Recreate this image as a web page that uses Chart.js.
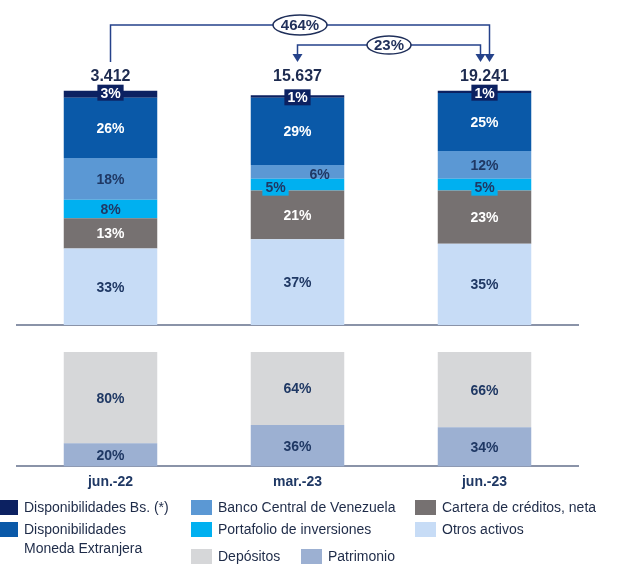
<!DOCTYPE html>
<html>
<head>
<meta charset="utf-8">
<script src="https://cdn.jsdelivr.net/npm/chart.js@4.4.1/dist/chart.umd.min.js"></script>
<style>
  html, body { margin: 0; padding: 0; background: #fff; }
  #wrap { position: relative; width: 622px; height: 565px; overflow: hidden; }
  #topChart { position: absolute; left: 0; top: 0; }
  #bottomChart { position: absolute; left: 0; top: 330px; }
  .leg { position: absolute; font: 14px "Liberation Sans", Arial, sans-serif; color: #1e2b48; line-height: 19px; white-space: nowrap; }
  .sw { position: absolute; width: 21px; height: 15px; }
</style>
</head>
<body>
<div id="wrap">
  <canvas id="topChart" width="622" height="330"></canvas>
  <canvas id="bottomChart" width="622" height="170"></canvas>
  <div id="legend"></div>
</div>
<script>
// categories and totals (Bs. millones)
const categories = ['jun.-22', 'mar.-23', 'jun.-23'];
const totals = ['3.412', '15.637', '19.241'];

// activos (%)
const dispBs = [3, 1, 1];
const dispME = [26, 29, 25];
const bancoCentral = [18, 6, 12];
const portafolio = [8, 5, 5];
const cartera = [13, 21, 23];
const otrosActivos = [33, 37, 35];

// pasivo + patrimonio (%)
const depositos = [80, 64, 66];
const patrimonio = [20, 36, 34];

// growth brackets
const growthFrom = [0, 1];
const growthTo = [2, 2];
const growthLabels = ['464%', '23%'];

const FONT = '"Liberation Sans", Arial, sans-serif';
const NAVY = '#1f3864';
const AXIS = '#8a93a8';

// labels inside the segments
const segLabels = {
    id: 'segLabels',
    afterDatasetsDraw(chart) {
        const ctx = chart.ctx;
        ctx.save();
        ctx.font = 'bold 14px ' + FONT;
        ctx.textAlign = 'center';
        ctx.textBaseline = 'middle';
        chart.data.datasets.forEach((ds, di) => {
            const meta = chart.getDatasetMeta(di);
            meta.data.forEach((bar, i) => {
                const text = ds.data[i] + '%';
                const shift = (ds.shift && ds.shift[i]) || [0, 0];
                const x = bar.x + shift[0];
                const y = ds.labelAtTop ? bar.y + 2 : (bar.y + bar.base) / 2 + shift[1];
                if (ds.labelBox) {
                    const w = ctx.measureText(text).width + 6;
                    ctx.fillStyle = ds.backgroundColor;
                    ctx.fillRect(x - w / 2, y - 8, w, 16);
                }
                ctx.fillStyle = ds.labelColor;
                ctx.fillText(text, x, y + 1);
            });
        });
        ctx.restore();
    }
};

// totals above the bars and the growth arrows
const growth = {
    id: 'growth',
    afterDraw(chart) {
        const ctx = chart.ctx;
        const xs = chart.scales.x;
        ctx.save();
        ctx.textAlign = 'center';
        ctx.textBaseline = 'middle';
        ctx.font = 'bold 16px ' + FONT;
        ctx.fillStyle = '#1d2b50';
        totals.forEach((t, i) => ctx.fillText(t, xs.getPixelForValue(i), 77));

        const levels = [25, 45];
        const fromOff = [0, 0];
        const toOff = [5, -4];
        const arrowFrom = [false, true];
        const ellW = [54, 44];
        const ellH = [20, 18];
        const tipY = 62;
        ctx.strokeStyle = '#25428a';
        ctx.fillStyle = '#25428a';
        ctx.lineWidth = 1.5;
        const head = (x) => {
            ctx.beginPath();
            ctx.moveTo(x - 5, tipY - 8);
            ctx.lineTo(x + 5, tipY - 8);
            ctx.lineTo(x, tipY);
            ctx.closePath();
            ctx.fill();
        };
        growthLabels.forEach((lab, k) => {
            const x1 = xs.getPixelForValue(growthFrom[k]) + fromOff[k];
            const x2 = xs.getPixelForValue(growthTo[k]) + toOff[k];
            const y = levels[k];
            ctx.beginPath();
            ctx.moveTo(x1, arrowFrom[k] ? tipY - 7 : tipY);
            ctx.lineTo(x1, y);
            ctx.lineTo(x2, y);
            ctx.lineTo(x2, tipY - 7);
            ctx.stroke();
            if (arrowFrom[k]) head(x1);
            head(x2);
            const cx = (x1 + x2) / 2;
            ctx.beginPath();
            ctx.ellipse(cx, y, ellW[k] / 2, ellH[k] / 2, 0, 0, Math.PI * 2);
            ctx.fillStyle = '#fff';
            ctx.fill();
            ctx.strokeStyle = '#1f2f5a';
            ctx.stroke();
            ctx.fillStyle = '#1f2f5a';
            ctx.font = 'bold 15px ' + FONT;
            ctx.fillText(lab, cx, y + 1);
            ctx.strokeStyle = '#25428a';
            ctx.fillStyle = '#25428a';
        });
        ctx.restore();
    }
};

function barSet(label, data, color, labelColor, extra) {
    return Object.assign({
        label: label,
        data: data,
        backgroundColor: color,
        labelColor: labelColor,
        borderWidth: 0,
        clip: false,
        categoryPercentage: 1,
        barPercentage: 0.5
    }, extra || {});
}

const topDatasets = [
    barSet('Otros activos', otrosActivos, '#c7dcf6', NAVY),
    barSet('Cartera de créditos, neta', cartera, '#767171', '#ffffff'),
    barSet('Portafolio de inversiones', portafolio, '#00b0f0', NAVY, { labelBox: true, shift: [[0, 0], [-22, 3], [0, 3]] }),
    barSet('Banco Central de Venezuela', bancoCentral, '#5b98d4', NAVY, { shift: [[0, 0], [22, 2], [0, 0]] }),
    barSet('Disponibilidades Moneda Extranjera', dispME, '#0a59a8', '#ffffff'),
    barSet('Disponibilidades Bs. (*)', dispBs, '#0c2161', '#ffffff', { labelBox: true, labelAtTop: true })
];

const bottomDatasets = [
    barSet('Patrimonio', patrimonio, '#9cb0d2', NAVY),
    barSet('Depósitos', depositos, '#d6d7d9', NAVY)
];

function baseOptions(padding, showTicks) {
    return {
        responsive: false,
        animation: false,
        devicePixelRatio: 1,
        layout: { padding: padding },
        plugins: { legend: { display: false }, tooltip: { enabled: false } },
        scales: {
            x: {
                stacked: true,
                grid: { display: false, drawTicks: false },
                border: { display: true, color: AXIS, width: 2 },
                ticks: {
                    display: showTicks,
                    padding: 8,
                    color: NAVY,
                    font: { family: FONT, size: 14, weight: 'bold' }
                }
            },
            y: { stacked: true, display: false, min: 0, max: 100 }
        }
    };
}

new Chart(document.getElementById('topChart'), {
    type: 'bar',
    data: { labels: categories, datasets: topDatasets },
    options: baseOptions({ left: 17, right: 44, top: 93, bottom: 5 }, false),
    plugins: [segLabels, growth]
});

new Chart(document.getElementById('bottomChart'), {
    type: 'bar',
    data: { labels: categories, datasets: bottomDatasets },
    options: baseOptions({ left: 17, right: 44, top: 22, bottom: 1 }, true),
    plugins: [segLabels]
});

// legend laid out in three columns like the reference
const legendItems = [
    { ds: topDatasets[5], x: -3, y: 500, lines: ['Disponibilidades Bs. (*)'] },
    { ds: topDatasets[4], x: -3, y: 522, lines: ['Disponibilidades', 'Moneda Extranjera'] },
    { ds: topDatasets[3], x: 191, y: 500 },
    { ds: topDatasets[2], x: 191, y: 522 },
    { ds: bottomDatasets[1], x: 191, y: 549 },
    { ds: bottomDatasets[0], x: 301, y: 549 },
    { ds: topDatasets[1], x: 415, y: 500 },
    { ds: topDatasets[0], x: 415, y: 522 }
];
const legend = document.getElementById('legend');
legendItems.forEach(item => {
    const sw = document.createElement('div');
    sw.className = 'sw';
    sw.style.left = item.x + 'px';
    sw.style.top = item.y + 'px';
    sw.style.background = item.ds.backgroundColor;
    legend.appendChild(sw);
    const t = document.createElement('div');
    t.className = 'leg';
    t.style.left = (item.x + 27) + 'px';
    t.style.top = (item.y - 2) + 'px';
    t.innerHTML = (item.lines || [item.ds.label]).join('<br>');
    legend.appendChild(t);
});
</script>
</body>
</html>
